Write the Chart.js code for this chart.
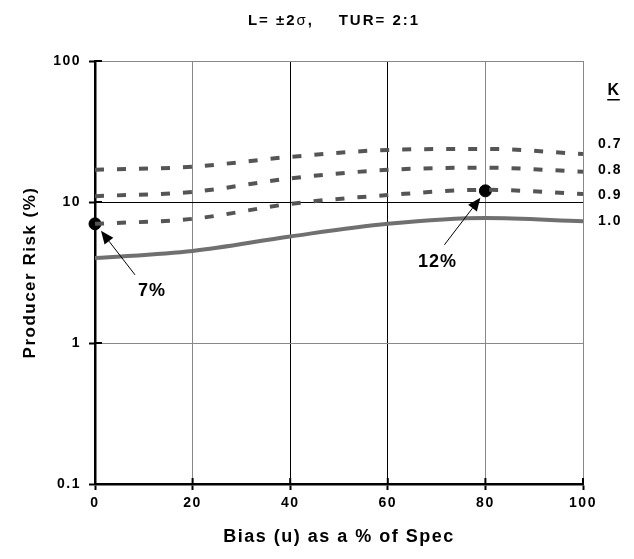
<!DOCTYPE html>
<html>
<head>
<meta charset="utf-8">
<script src="https://cdn.jsdelivr.net/npm/chart.js@4"></script>
<style>
  body { margin: 0; background: #fff; }
  canvas { display: block; }
</style>
</head>
<body>
<canvas id="myChart" width="634" height="559"></canvas>
<script>
// Bias (u) as % of spec, and producer risk (%) for each K
const biasPct = [0, 20, 40, 60, 80, 100];
const riskK07 = [16.9, 17.8, 20.9, 23.4, 23.8, 21.9];
const riskK08 = [11.0, 11.8, 14.7, 16.9, 17.5, 16.4];
const riskK09 = [7.0, 7.6, 9.7, 11.2, 12.2, 11.4];
const riskK10 = [4.0, 4.5, 5.7, 7.0, 7.7, 7.3];
const kLabels = ['0.7', '0.8', '0.9', '1.0'];

// marked points with their callouts
const markBias = [0, 80];
const markRisk = [7, 12];
const markText = ['7%', '12%'];

const xTicks = [0, 20, 40, 60, 80, 100];
const yTicks = [0.1, 1, 10, 100];
// title pieces: sigma is set in regular weight
const titleParts = ['L= \u00b12', '\u03c3', ',    TUR= 2:1'];

const FONT = '"Liberation Sans", Arial, Helvetica, sans-serif';

function toPoints(xs, ys) {
    return xs.map((x, i) => ({ x: x, y: ys[i] }));
}

function drawArrow(ctx, x1, y1, x2, y2) {
    // line from (x1,y1) to tip (x2,y2) with a filled head
    const ang = Math.atan2(y2 - y1, x2 - x1);
    const len = 13, half = 5.5;
    const bx = x2 - len * Math.cos(ang);
    const by = y2 - len * Math.sin(ang);
    ctx.save();
    ctx.strokeStyle = '#000';
    ctx.fillStyle = '#000';
    ctx.lineWidth = 1;
    ctx.beginPath();
    ctx.moveTo(x1, y1);
    ctx.lineTo(bx, by);
    ctx.stroke();
    ctx.beginPath();
    ctx.moveTo(x2, y2);
    ctx.lineTo(bx + half * Math.sin(ang), by - half * Math.cos(ang));
    ctx.lineTo(bx - half * Math.sin(ang), by + half * Math.cos(ang));
    ctx.closePath();
    ctx.fill();
    ctx.restore();
}

function drawTitle(ctx, cx, cy) {
    const fonts = ['bold 15px ' + FONT, '15px ' + FONT, 'bold 15px ' + FONT];
    let total = 0;
    const widths = titleParts.map((t, i) => {
        ctx.font = fonts[i];
        const w = ctx.measureText(t).width;
        total += w;
        return w;
    });
    let x = cx - total / 2;
    ctx.textAlign = 'left';
    titleParts.forEach((t, i) => {
        ctx.font = fonts[i];
        ctx.fillText(t, x, cy);
        x += widths[i];
    });
    ctx.textAlign = 'center';
}

const extrasPlugin = {
    id: 'extras',
    beforeDraw(chart) {
        // wider letter spacing for all the labels
        chart.ctx.letterSpacing = '1.5px';
    },
    afterDraw(chart) {
        const ctx = chart.ctx;
        const area = chart.chartArea;
        const xs = chart.scales.x;
        const ys = chart.scales.y;

        // tick marks that cross into the plot
        ctx.save();
        ctx.strokeStyle = '#000';
        ctx.lineWidth = 2;
        ctx.beginPath();
        xTicks.forEach(v => {
            const px = xs.getPixelForValue(v);
            ctx.moveTo(px, area.bottom);
            ctx.lineTo(px, area.bottom - 6);
        });
        yTicks.forEach(v => {
            const py = ys.getPixelForValue(v);
            ctx.moveTo(area.left, py);
            ctx.lineTo(area.left + 7, py);
        });
        ctx.stroke();
        ctx.restore();

        // title
        ctx.save();
        ctx.letterSpacing = '2px';
        ctx.fillStyle = '#000';
        ctx.textBaseline = 'middle';
        drawTitle(ctx, 334, 21);

        // K legend on the right
        ctx.letterSpacing = '1.5px';
        ctx.textAlign = 'center';
        const kx = area.right + 27;
        ctx.font = 'bold 16px ' + FONT;
        ctx.fillText('K', kx + 4, area.top + 30);
        const kw = ctx.measureText('K').width - 1.5;
        ctx.fillRect(kx + 4 - kw / 2 - 1, area.top + 38, kw + 1, 1.5);
        ctx.font = 'bold 14px ' + FONT;
        const kOffsets = [83, 109, 134, 160];
        kLabels.forEach((t, i) => {
            ctx.fillText(t, kx, area.top + kOffsets[i]);
        });

        // callouts for the marked points
        ctx.letterSpacing = '1px';
        const p0x = xs.getPixelForValue(markBias[0]);
        const p0y = ys.getPixelForValue(markRisk[0]);
        drawArrow(ctx, p0x + 40, p0y + 51, p0x + 6, p0y + 7);
        ctx.font = 'bold 18px ' + FONT;
        ctx.fillText(markText[0], p0x + 57, p0y + 67);

        const p1x = xs.getPixelForValue(markBias[1]);
        const p1y = ys.getPixelForValue(markRisk[1]);
        drawArrow(ctx, p1x - 41, p1y + 54, p1x - 5, p1y + 7);
        ctx.fillText(markText[1], p1x - 48, p1y + 71);
        ctx.restore();
    }
};

Chart.defaults.font.family = FONT;
Chart.defaults.font.weight = 'bold';
Chart.defaults.color = '#000';

const dashedLine = {
    borderColor: '#555',
    borderWidth: 4,
    borderDash: [9, 13],
    pointRadius: 0,
    fill: false,
    cubicInterpolationMode: 'monotone'
};

const ctx = document.getElementById('myChart').getContext('2d');
const myChart = new Chart(ctx, {
    type: 'line',
    data: {
        datasets: [
            Object.assign({ label: 'K = 0.7', data: toPoints(biasPct, riskK07) }, dashedLine),
            Object.assign({ label: 'K = 0.8', data: toPoints(biasPct, riskK08) }, dashedLine),
            Object.assign({ label: 'K = 0.9', data: toPoints(biasPct, riskK09) }, dashedLine),
            {
                label: 'K = 1.0',
                data: toPoints(biasPct, riskK10),
                borderColor: '#707070',
                borderWidth: 4,
                pointRadius: 0,
                fill: false,
                cubicInterpolationMode: 'monotone'
            },
            {
                label: 'marks',
                data: toPoints(markBias, markRisk),
                showLine: false,
                pointRadius: 6,
                pointBackgroundColor: '#000',
                pointBorderColor: '#000',
                clip: false
            }
        ]
    },
    options: {
        responsive: false,
        animation: false,
        layout: { padding: { top: 61, right: 51, left: 0, bottom: 0 } },
        plugins: {
            legend: { display: false },
            tooltip: { enabled: false }
        },
        scales: {
            x: {
                type: 'linear',
                min: 0,
                max: 100,
                afterBuildTicks: s => { s.ticks = xTicks.map(v => ({ value: v })); },
                afterFit: s => { s.height = 75; },
                ticks: { font: { size: 14, weight: 'bold' }, padding: 5 },
                grid: {
                    color: c => (c.tick && (c.tick.value === 40 || c.tick.value === 60)) ? '#000' : '#888',
                    lineWidth: 1,
                    tickLength: 6,
                    tickColor: '#000',
                    tickWidth: 2
                },
                border: { color: '#000', width: 2.5 },
                title: {
                    display: true,
                    text: 'Bias (u) as a % of Spec',
                    font: { size: 18, weight: 'bold' },
                    padding: { top: 0, bottom: 11 }
                }
            },
            y: {
                type: 'logarithmic',
                min: 0.1,
                max: 100,
                afterBuildTicks: s => { s.ticks = yTicks.map(v => ({ value: v })); },
                afterFit: s => { s.width = 95; },
                ticks: {
                    font: { size: 14, weight: 'bold' },
                    padding: 8,
                    callback: v => String(v)
                },
                grid: {
                    color: c => (c.tick && c.tick.value === 10) ? '#000' : '#888',
                    lineWidth: 1,
                    tickLength: 6,
                    tickColor: '#000',
                    tickWidth: 2
                },
                border: { color: '#000', width: 2.5 },
                title: {
                    display: true,
                    text: 'Producer Risk (%)',
                    font: { size: 17, weight: 'bold' },
                    padding: { top: 20, bottom: 0 }
                }
            }
        }
    },
    plugins: [extrasPlugin]
});
</script>
</body>
</html>
